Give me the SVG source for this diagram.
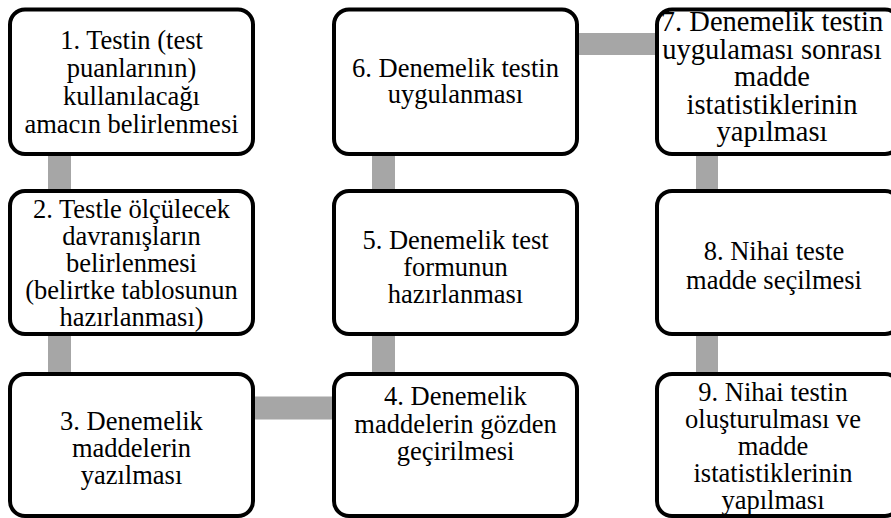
<svg xmlns="http://www.w3.org/2000/svg" width="891" height="518" viewBox="0 0 891 518">
<style>
.box{fill:#fff;stroke:#000;stroke-width:4}
.conn{fill:#a6a6a6}
text{font-family:"Liberation Serif","Times New Roman",serif;font-size:26.5px;fill:#000;text-anchor:middle}
.big{font-size:28.5px}
</style>
<rect width="891" height="518" fill="#fff"/>
<g id="connectors">
<rect class="conn" x="48" y="150" width="23" height="45"/>
<rect class="conn" x="48" y="330" width="23" height="48"/>
<rect class="conn" x="250" y="396.5" width="88" height="23"/>
<rect class="conn" x="372" y="330" width="23" height="48"/>
<rect class="conn" x="372" y="150" width="23" height="45"/>
<rect class="conn" x="574" y="33" width="87" height="22"/>
<rect class="conn" x="696" y="150" width="22" height="45"/>
<rect class="conn" x="696" y="330" width="22" height="48"/>
</g>
<g id="n1">
<rect class="box" x="10" y="9.5" width="243" height="144.5" rx="15"/>
<text x="131.5" y="49">1. Testin (test</text>
<text x="131.5" y="77">puanlarının)</text>
<text x="131.5" y="105">kullanılacağı</text>
<text x="131.5" y="133">amacın belirlenmesi</text>
</g>
<g id="n2">
<rect class="box" x="10" y="191" width="243" height="143" rx="15"/>
<text x="131.5" y="218">2. Testle ölçülecek</text>
<text x="131.5" y="245">davranışların</text>
<text x="131.5" y="272">belirlenmesi</text>
<text x="131.5" y="299">(belirtke tablosunun</text>
<text x="131.5" y="326">hazırlanması)</text>
</g>
<g id="n3">
<rect class="box" x="10" y="374" width="243" height="142" rx="15"/>
<text x="131.5" y="429.5">3. Denemelik</text>
<text x="131.5" y="456.5">maddelerin</text>
<text x="131.5" y="483.5">yazılması</text>
</g>
<g id="n4">
<rect class="box" x="334" y="374" width="243" height="142" rx="15"/>
<text x="455.5" y="405">4. Denemelik</text>
<text x="455.5" y="432.5">maddelerin gözden</text>
<text x="455.5" y="460">geçirilmesi</text>
</g>
<g id="n5">
<rect class="box" x="334" y="191" width="243" height="143" rx="15"/>
<text x="455.5" y="249">5. Denemelik test</text>
<text x="455.5" y="276">formunun</text>
<text x="455.5" y="303">hazırlanması</text>
</g>
<g id="n6">
<rect class="box" x="334" y="9.5" width="243" height="144.5" rx="15"/>
<text x="455.5" y="77">6. Denemelik testin</text>
<text x="455.5" y="103">uygulanması</text>
</g>
<g id="n7">
<rect class="box" x="657" y="9.5" width="243" height="144.5" rx="15"/>
<text class="big" x="772" y="31">7. Denemelik testin</text>
<text class="big" x="772" y="58.5">uygulaması sonrası</text>
<text class="big" x="772" y="86">madde</text>
<text class="big" x="772" y="113.5">istatistiklerinin</text>
<text class="big" x="772" y="141">yapılması</text>
</g>
<g id="n8">
<rect class="box" x="657" y="191" width="243" height="143" rx="15"/>
<text x="774" y="260">8. Nihai teste</text>
<text x="774" y="289">madde seçilmesi</text>
</g>
<g id="n9">
<rect class="box" x="657" y="374" width="243" height="142" rx="15"/>
<text x="773" y="401">9. Nihai testin</text>
<text x="773" y="428">oluşturulması ve</text>
<text x="773" y="455">madde</text>
<text x="773" y="482">istatistiklerinin</text>
<text x="773" y="509">yapılması</text>
</g>
</svg>
